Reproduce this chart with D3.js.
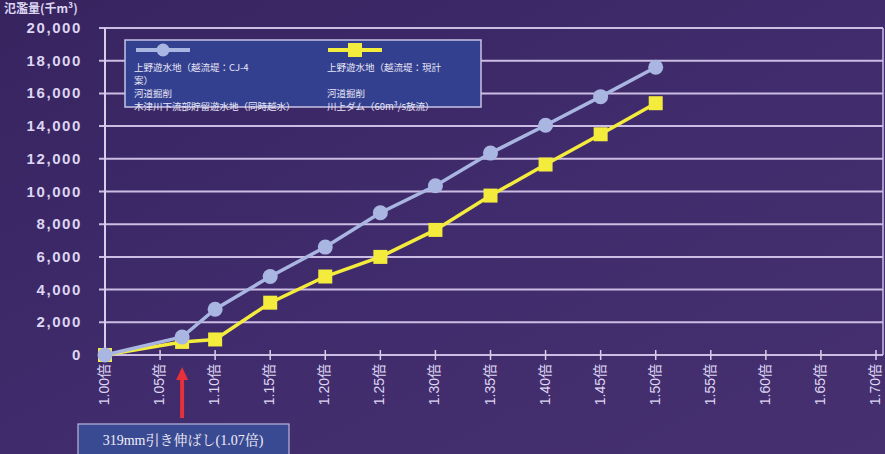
<!DOCTYPE html>
<html><head><meta charset="utf-8">
<script src="https://cdn.jsdelivr.net/npm/d3@7"></script>
<style>
html,body{margin:0;padding:0;background:#3d2a6a;}
svg{display:block;font-family:"Noto Sans CJK JP","DejaVu Sans",sans-serif;}
</style></head>
<body>
<svg id="chart" width="885" height="454"></svg>
<script>
const xValues = [1.00, 1.07, 1.10, 1.15, 1.20, 1.25, 1.30, 1.35, 1.40, 1.45, 1.50];
const seriesCJ4 = [0, 1100, 2800, 4800, 6600, 8700, 10350, 12350, 14050, 15800, 17600];
const seriesCurrent = [0, 800, 950, 3200, 4800, 6000, 7650, 9750, 11650, 13500, 15400];
const xTicks = [1.00,1.05,1.10,1.15,1.20,1.25,1.30,1.35,1.40,1.45,1.50,1.55,1.60,1.65,1.70];
const yTicks = [0,2000,4000,6000,8000,10000,12000,14000,16000,18000,20000];
const legendCol1 = ["上野遊水地（越流堤：CJ-4", "案）", "河道掘削", "木津川下流部貯留遊水地（同時越水）"];
const legendCol2 = ["上野遊水地（越流堤：現計", "", "河道掘削", "川上ダム（60m³/s放流）"];
const yTitle = "氾濫量(千m³)";
const annotation = "319mm引き伸ばし(1.07倍)";
const annotationX = 1.07;

const svg = d3.select("#chart");
const defs = svg.append("defs");
const g1 = defs.append("linearGradient").attr("id","bg").attr("x1","0").attr("x2","1").attr("y1","0").attr("y2","1");
g1.append("stop").attr("offset","0").attr("stop-color","#37245f");
g1.append("stop").attr("offset","0.5").attr("stop-color","#402b6c");
g1.append("stop").attr("offset","1").attr("stop-color","#46306f");
svg.append("rect").attr("width",885).attr("height",454).attr("fill","url(#bg)");

const x = d3.scaleLinear().domain([1.00,1.70]).range([105,876]);
const y = d3.scaleLinear().domain([0,20000]).range([355,28]);

// grid
svg.append("g").selectAll("line").data(yTicks).join("line")
  .attr("x1",99).attr("x2",883).attr("y1",d=>y(d)).attr("y2",d=>y(d))
  .attr("stroke","#cbbde3").attr("stroke-width",2);
svg.append("line").attr("x1",883).attr("x2",883).attr("y1",y(20000)).attr("y2",y(0))
  .attr("stroke","#cbbde3").attr("stroke-width",1.5);
svg.append("line").attr("x1",x(1.0)).attr("x2",x(1.0)).attr("y1",y(20000)).attr("y2",y(0))
  .attr("stroke","#d8cdea").attr("stroke-width",2);

// y labels
svg.append("g").selectAll("text").data(yTicks).join("text")
  .attr("x",82).attr("y",d=>y(d)+5).attr("text-anchor","end")
  .attr("fill","#ddd6f2").attr("font-size",15).attr("font-weight","bold")
  .attr("letter-spacing","1.6px").attr("font-family","'Liberation Sans',Arial,sans-serif")
  .text(d=>d3.format(",")(d));

// x ticks
svg.append("g").selectAll("line").data(xTicks).join("line")
  .attr("x1",d=>x(d)).attr("x2",d=>x(d)).attr("y1",y(0)-5).attr("y2",y(0)+5)
  .attr("stroke","#d8cdea").attr("stroke-width",1.5);
svg.append("g").selectAll("text").data(xTicks).join("text")
  .attr("transform",d=>`translate(${x(d)+4},${y(0)+9}) rotate(-90)`)
  .attr("text-anchor","end").attr("fill","#ddd6f2").attr("font-size",14)
  .attr("font-family","'Liberation Sans','Noto Sans CJK JP',sans-serif")
  .text(d=>d.toFixed(2)+"倍");

// y title
svg.append("text").attr("x",4).attr("y",13).attr("fill","#ddd6f2").attr("font-size",12)
  .attr("font-weight","bold").text(yTitle);

// lines
const line = d3.line().x((d,i)=>x(xValues[i])).y(d=>y(d));
svg.append("path").datum(seriesCurrent).attr("d",line).attr("fill","none")
  .attr("stroke","#f3ec3c").attr("stroke-width",3.5);
svg.append("g").selectAll("rect").data(seriesCurrent).join("rect")
  .attr("x",(d,i)=>x(xValues[i])-7).attr("y",d=>y(d)-7).attr("width",14).attr("height",14)
  .attr("fill","#f3ec3c");
svg.append("path").datum(seriesCJ4).attr("d",line).attr("fill","none")
  .attr("stroke","#a9b6e2").attr("stroke-width",3.5);
svg.append("g").selectAll("circle").data(seriesCJ4).join("circle")
  .attr("cx",(d,i)=>x(xValues[i])).attr("cy",d=>y(d)).attr("r",7.5)
  .attr("fill","#a9b6e2");

// legend
const lg = svg.append("g");
lg.append("rect").attr("x",125).attr("y",40).attr("width",356).attr("height",67)
  .attr("fill","#33408f").attr("stroke","#c8c2e6").attr("stroke-width",1.5);
lg.append("line").attr("x1",136).attr("x2",190).attr("y1",50).attr("y2",50)
  .attr("stroke","#a9b6e2").attr("stroke-width",4);
lg.append("circle").attr("cx",163).attr("cy",50).attr("r",6.5).attr("fill","#a9b6e2");
lg.append("line").attr("x1",328).attr("x2",382).attr("y1",50).attr("y2",50)
  .attr("stroke","#f3ec3c").attr("stroke-width",4);
lg.append("rect").attr("x",348).attr("y",43).attr("width",14).attr("height",14).attr("fill","#f3ec3c");
const lineYs = [71, 84, 97, 110];
lg.append("g").selectAll("text").data(legendCol1).join("text")
  .attr("x",134).attr("y",(d,i)=>lineYs[i]).attr("fill","#e8e6f6").attr("font-size",9.5).text(d=>d);
lg.append("g").selectAll("text").data(legendCol2).join("text")
  .attr("x",327).attr("y",(d,i)=>lineYs[i]).attr("fill","#e8e6f6").attr("font-size",9.5).text(d=>d);

// annotation arrow
const ax = x(annotationX);
svg.append("line").attr("x1",ax).attr("x2",ax).attr("y1",418).attr("y2",378)
  .attr("stroke","#e8303a").attr("stroke-width",4);
svg.append("path").attr("d",`M${ax-6},${380} L${ax},${367} L${ax+6},${380} Z`).attr("fill","#e8303a");
svg.append("rect").attr("x",78).attr("y",424).attr("width",211).attr("height",32)
  .attr("fill","#3a4a92").attr("stroke","#b9b6dc").attr("stroke-width",1.2);
svg.append("text").attr("x",183).attr("y",445).attr("text-anchor","middle")
  .attr("fill","#f0eef8").attr("font-size",14)
  .attr("font-family","'Liberation Serif','Noto Serif CJK JP','Noto Sans CJK JP',serif")
  .text(annotation);
</script>
</body></html>
